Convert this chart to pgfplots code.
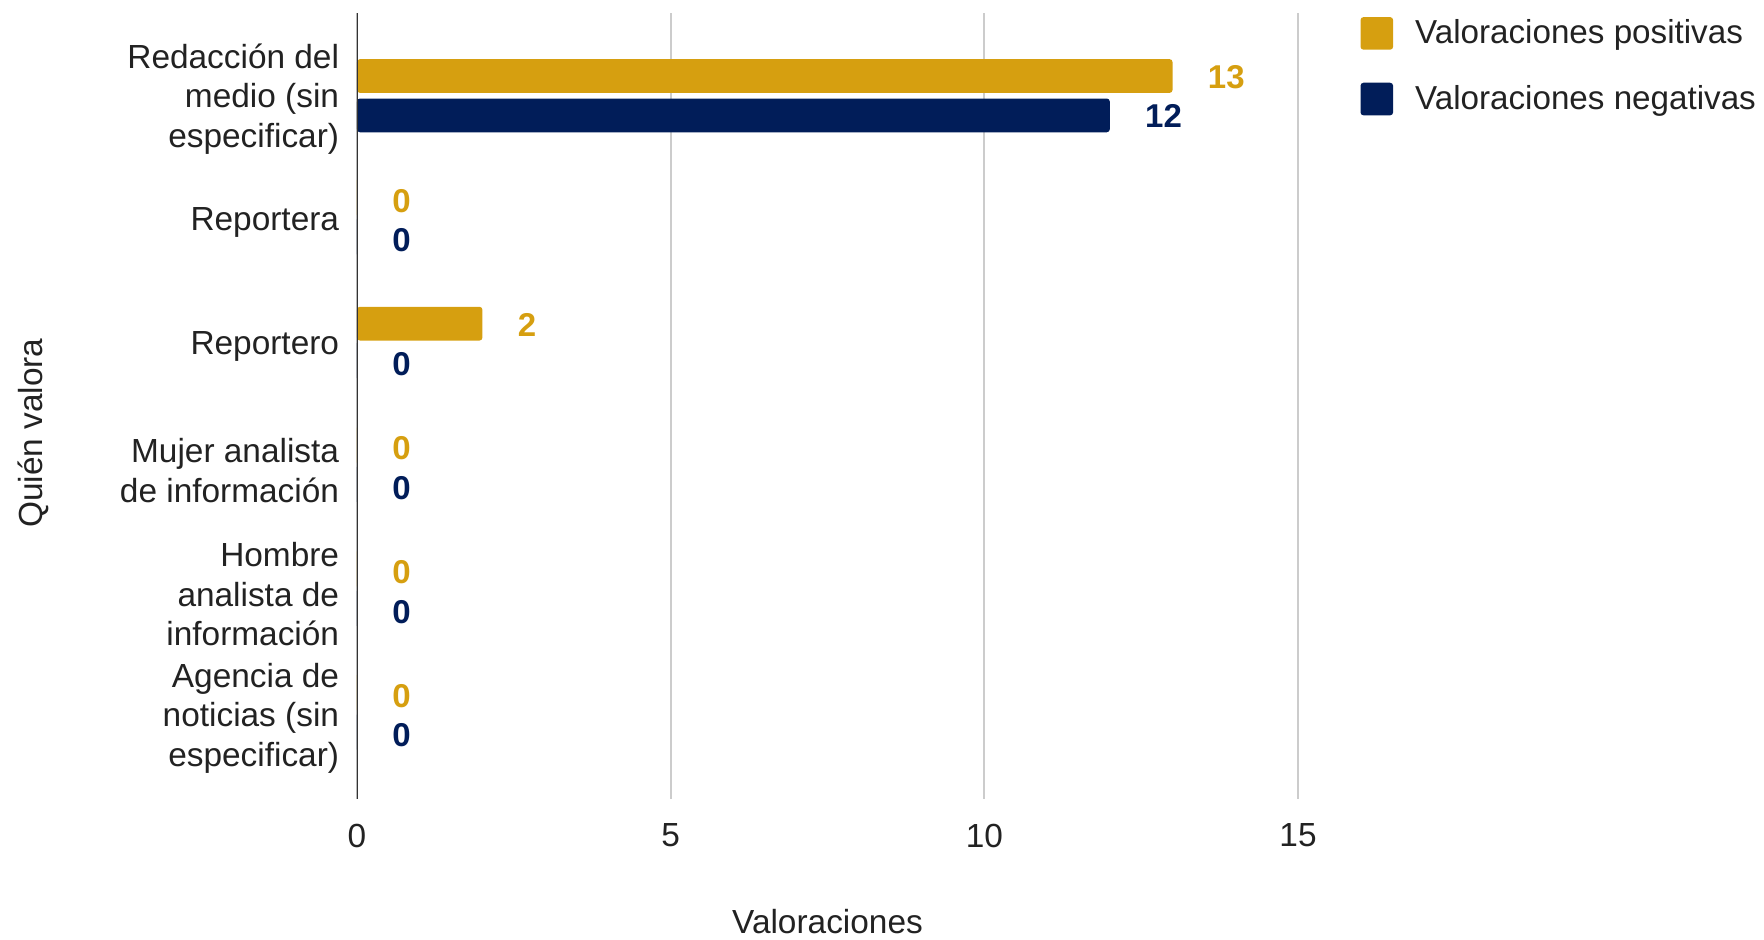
\documentclass[border=0pt]{standalone}
\usepackage{fontspec}
\setmainfont{Liberation Sans}
\usepackage{pgfplots}
\pgfplotsset{compat=1.18}
\definecolor{gold}{HTML}{D69F10}
\definecolor{navy}{HTML}{011D59}
\definecolor{txt}{HTML}{222222}
\definecolor{gridgray}{HTML}{CCCCCC}
\begin{document}
\begin{tikzpicture}
\useasboundingbox (-178.5pt,-70.5pt) rectangle (703.5pt,399.5pt);
\begin{axis}[
  at={(0,0)}, anchor=south west,
  scale only axis, width=470.5pt, height=392.75pt,
  xbar, bar width=0.2727,
  xmin=0, xmax=15, ymin=-0.664, ymax=5.68, y dir=reverse,
  xtick={0,5,10,15}, ytick={0,1,2,3,4,5},
  yticklabels={{Redacción del\\medio (sin\\especificar)},{Reportera},{Reportero},{Mujer analista\\de información},{Hombre\\analista de\\información},{Agencia de\\noticias (sin\\especificar)}},
  axis line style={draw=none}, major tick style={draw=none},
  xmajorgrids, grid style={color=gridgray, line width=0.85pt},
  /pgf/number format/assume math mode=true,
  tick label style={font=\fontsize{16.7}{19.7}\selectfont, text=txt},
  yticklabel style={align=right, anchor=east, inner sep=0pt, xshift=-4.5pt, yshift=-1.7pt},
  xticklabel style={anchor=north, inner sep=0pt, yshift=-12.3pt},
  xlabel={Valoraciones},
  ylabel={Quién valora},
  label style={font=\fontsize{16.7}{19.7}\selectfont, text=txt},
  xlabel style={at={(axis description cs:0.5,0)}, anchor=center, yshift=-61.5pt},
  ylabel style={at={(axis description cs:-0.344,0.4657)}, anchor=center},
  legend style={draw=none, fill=none, at={(axis description cs:1.066,0.9975)}, anchor=north west,
    font=\fontsize{16.6}{19.7}\selectfont, text=txt, inner sep=0pt, row sep=15.3pt,
    /tikz/every odd column/.append style={column sep=9pt}},
  legend cell align=left,
  legend image code/.code={\fill[#1, draw=none, rounded corners=1.5pt] (0pt,-8.15pt) rectangle (16.3pt,8.15pt);},
  nodes near coords,
]
\addplot[fill=gold, draw=none, rounded corners=1.5pt, bar shift=-0.159,
  every node near coord/.append style={anchor=west, inner sep=0pt, xshift=17.5pt, yshift=-0.5pt, text=gold, font=\fontsize{16.5}{19.7}\selectfont\bfseries}]
  coordinates {(13,0) (0,1) (2,2) (0,3) (0,4) (0,5)};
\addlegendentry{Valoraciones positivas}
\addplot[fill=navy, draw=none, rounded corners=1.5pt, bar shift=0.159,
  every node near coord/.append style={anchor=west, inner sep=0pt, xshift=17.5pt, yshift=-0.5pt, text=navy, font=\fontsize{16.5}{19.7}\selectfont\bfseries}]
  coordinates {(12,0) (0,1) (0,2) (0,3) (0,4) (0,5)};
\addlegendentry{Valoraciones negativas}
\draw[color=black!80, line width=1pt] (rel axis cs:0,0) -- (rel axis cs:0,1);
\end{axis}
\end{tikzpicture}
\end{document}
